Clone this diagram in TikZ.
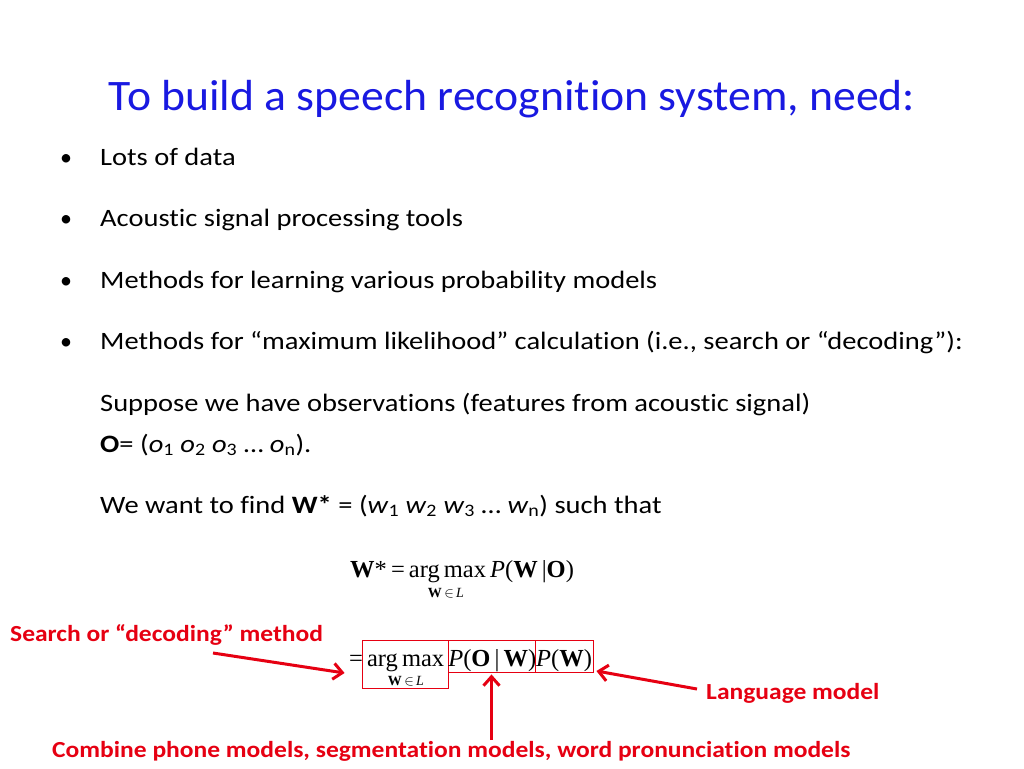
\documentclass[tikz,border=0pt]{standalone}
\usepackage{fontspec}
\setmainfont{Carlito}[Ligatures=NoCommon]
\newfontfamily\bodyfont{Carlito}[Ligatures=NoCommon, FakeStretch=1.14]
\newfontfamily\redfont{Carlito}[Ligatures=NoCommon, FakeStretch=1.11]
\newfontfamily\titlefont{Carlito}[Ligatures=NoCommon, FakeStretch=1.05]
\newfontfamily\tms{Liberation Serif}
\usetikzlibrary{arrows.meta}
\definecolor{ttlblue}{RGB}{25,25,225}
\definecolor{lblred}{RGB}{230,0,18}
\tikzset{
  ttl/.style={anchor=base, text=ttlblue, font=\titlefont\fontsize{43.5}{50}\selectfont, inner sep=0},
  bodytxt/.style={anchor=base west, font=\bodyfont\fontsize{25}{30}\selectfont, inner sep=0},
  bul/.style={anchor=base, font=\fontsize{24}{29}\selectfont, inner sep=0},
  eqtxt/.style={anchor=base west, font=\tms\fontsize{24.5}{30}\selectfont, inner sep=0},
  subtxt/.style={anchor=base, font=\tms\fontsize{14}{16}\selectfont, inner sep=0},
  redlbl/.style={anchor=base west, text=lblred, font=\redfont\bfseries\fontsize{23}{27}\selectfont, inner sep=0},
  rbox/.style={draw=lblred, line width=0.9pt, inner sep=0},
  rarrow/.style={draw=lblred, line width=3pt, -{Straight Barb[length=9pt,width=16pt,line width=3pt]}},
}
\begin{document}
\begin{tikzpicture}[x=1pt,y=-1pt]
\useasboundingbox[fill=white] (0,0) rectangle (1024,768);
\node[ttl] (title) at (512,110) {To build a speech recognition system, need:};
% bullets
\node[bul] (b1) at (66,165) {•};
\node[bodytxt] (t1) at (100,165) {Lots of data};
\node[bul] (b2) at (66,226) {•};
\node[bodytxt] (t2) at (100,226) {Acoustic signal processing tools};
\node[bul] (b3) at (66,288) {•};
\node[bodytxt] (t3) at (100,288) {Methods for learning various probability models};
\node[bul] (b4) at (66,349) {•};
\node[bodytxt] (t4) at (100,349) {Methods for “maximum likelihood” calculation (i.e., search or “decoding”):};
\node[bodytxt] (t5) at (100,411) {Suppose we have observations (features from acoustic signal)};
\node[bodytxt] (t6) at (100,452) {\textbf{O}= (\textit{o}\textsubscript{1} \textit{o}\textsubscript{2} \textit{o}\textsubscript{3} … \textit{o}\textsubscript{n}).};
\node[bodytxt] (t7) at (100,513) {We want to find \textbf{W*} = (\textit{w}\textsubscript{1} \textit{w}\textsubscript{2} \textit{w}\textsubscript{3} … \textit{w}\textsubscript{n}) such that};
% equation 1
\node[eqtxt] (e1) at (350,577) {\textbf{W}*\,=\,arg\,max\,\textit{P}(\textbf{W}\,|\textbf{O})};
\node[subtxt] (s1) at (446,597) {\textbf{W}\,$\in$\,\textit{L}};
% equation 2 boxes
\node[rbox, minimum width=86pt, minimum height=48pt] (bx1) at (405,664) {};
\node[rbox, minimum width=87pt, minimum height=32pt] (bx2) at (491.5,656) {};
\node[rbox, minimum width=58pt, minimum height=32pt] (bx3) at (564,656) {};
\node[eqtxt] (e2) at (349,666) {=\,arg\,max\,\textit{P}(\textbf{O}\,|\,\textbf{W})\textit{P}(\textbf{W})};
\node[subtxt] (s2) at (406,685) {\textbf{W}\,$\in$\,\textit{L}};
% labels
\node[redlbl] (l1) at (10,641) {Search or “decoding” method};
\node[redlbl] (l2) at (706,699) {Language model};
\node[redlbl] (l3) at (52,757) {Combine phone models, segmentation models, word pronunciation models};
% arrows
\draw[rarrow] ([xshift=203pt,yshift=-12pt]l1.base west) -- ([xshift=-17pt,yshift=-9pt]bx1.west);
\draw[rarrow] ([xshift=-9pt,yshift=10pt]l2.base west) -- ([xshift=3pt,yshift=-15pt]bx3.east);
\draw[rarrow] ([xshift=439.5pt,yshift=17pt]l3.base west) -- ([yshift=-2pt]bx2.south);
\end{tikzpicture}
\end{document}
